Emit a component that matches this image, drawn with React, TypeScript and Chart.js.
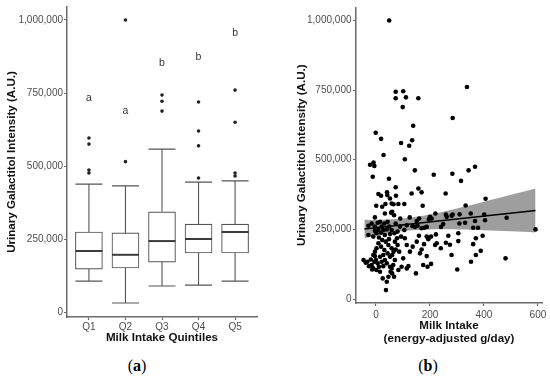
import React, { useEffect, useRef } from 'react';
import { Chart, registerables } from 'chart.js';

Chart.register(...registerables);

const FONT = '"Liberation Sans", Arial, Helvetica, sans-serif';
const AXIS = '#6b6b6b';
const TICK_TEXT = '#4d4d4d';
const BOX_LINE = '#555555';

// ---------- Panel (a): box plots ----------
const quintiles = ['Q1', 'Q2', 'Q3', 'Q4', 'Q5'];
const whiskerLow = [106000, 31000, 89000, 92000, 106000];
const q1 = [147000, 151000, 171000, 202000, 202000];
const median = [209000, 196000, 243000, 250000, 274000];
const q3 = [274000, 271000, 343000, 301000, 301000];
const whiskerHigh = [438000, 432000, 558000, 445000, 449000];
const outliersQ1 = [596000, 575000, 486000, 476000];
const outliersQ2 = [1000000, 515000];
const outliersQ3 = [743000, 722000, 688000];
const outliersQ4 = [719000, 620000, 569000, 459000];
const outliersQ5 = [760000, 650000, 476000, 466000];
const groupLetters = ['a', 'a', 'b', 'b', 'b'];
const letterY = [733000, 688000, 853000, 873000, 955000];

const yTicks = [0, 250000, 500000, 750000, 1000000];

// ---------- Panel (b): scatter with linear fit ----------
const xTicksB = [0, 200, 400, 600];
const milkVsGalactitol: [number, number][] = [
  [49, 1000000], [73, 744000], [101, 746000], [73, 721000], [111, 724000], [157, 721000], [99, 689000],
  [337, 761000], [284, 650000], [138, 622000], [-1, 597000], [19, 575000], [93, 560000], [134, 570000],
  [123, 550000], [28, 517000], [107, 502000], [-22, 482000], [-9, 490000], [-6, 478000], [-12, 439000],
  [48, 432000], [144, 462000], [214, 446000], [283, 450000], [315, 424000], [343, 462000], [367, 475000],
  [73, 401000], [157, 397000],
  [169, 383000], [258, 379000], [173, 335000], [332, 336000], [406, 360000], [351, 307000], [401, 303000],
  [484, 292000], [404, 283000], [591, 250000], [395, 227000],
  [151, 280000], [160, 289000], [200, 295000], [206, 289000], [196, 286000], [262, 295000], [280, 299000],
  [367, 280000], [144, 259000], [154, 263000], [169, 254000], [179, 256000], [188, 259000], [241, 259000],
  [309, 271000], [330, 274000], [360, 256000], [378, 256000], [159, 227000], [188, 224000], [204, 224000],
  [194, 215000], [222, 232000], [268, 227000], [305, 236000], [370, 218000], [220, 307000], [259, 303000],
  [284, 303000], [310, 304000], [249, 269000],
  [151, 206000], [163, 164000], [188, 154000], [175, 122000], [191, 116000], [204, 126000], [148, 92000],
  [219, 194000], [225, 200000], [240, 182000], [259, 202000], [274, 195000], [280, 158000], [305, 208000],
  [301, 106000], [360, 197000], [370, 158000], [388, 173000], [352, 134000], [480, 146000], [178, 197000],
  [169, 178000],
  [9, 377000], [19, 371000], [41, 383000], [42, 373000], [52, 361000], [74, 371000], [132, 379000],
  [1, 335000], [23, 331000], [35, 341000], [58, 343000], [65, 340000], [83, 341000], [105, 341000],
  [33, 307000], [56, 310000], [67, 301000], [60, 313000], [-4, 293000], [90, 289000], [125, 293000],
  [-28, 263000], [-16, 271000], [-4, 260000], [6, 274000], [15, 277000], [21, 260000], [31, 271000],
  [43, 277000], [49, 260000], [58, 248000], [73, 271000], [89, 260000], [105, 248000], [114, 265000],
  [135, 262000],
  [114, 110000], [120, 118000], [101, 146000], [126, 170000], [136, 188000], [114, 194000], [107, 218000],
  [93, 224000], [78, 218000], [70, 206000],
  [-46, 140000], [-38, 130000], [-28, 230000], [-14, 106000], [-4, 154000], [0, 140000], [6, 128000],
  [11, 116000], [15, 152000], [21, 134000], [27, 118000], [33, 140000], [25, 74000], [40, 62000],
  [37, 32000], [46, 80000], [54, 98000], [58, 110000], [64, 122000], [70, 140000], [52, 152000],
  [43, 164000], [31, 176000], [19, 188000], [9, 200000], [2, 182000], [-4, 170000], [-10, 158000],
  [-19, 142000], [11, 221000], [23, 212000], [36, 206000], [46, 194000], [58, 182000], [65, 170000],
  [48, 215000], [33, 230000], [19, 238000], [2, 236000], [-10, 224000], [27, 158000], [40, 128000],
  [52, 116000], [15, 98000], [2, 104000], [-6, 134000], [60, 158000], [73, 178000], [80, 194000],
  [86, 170000], [95, 116000], [83, 104000], [67, 80000], [60, 92000], [-16, 122000], [-26, 118000],
  [-32, 134000], [40, 250000], [52, 233000], [68, 236000], [80, 242000], [27, 248000], [9, 248000],
  [-4, 245000], [-10, 110000],
];
const fitX = [-43, 591];
const fitY = [251500, 318000];
const bandX = [-43, 0, 100, 200, 300, 400, 500, 591];
const bandUpper = [285000, 284000, 289000, 303000, 325000, 349000, 374000, 397000];
const bandLower = [218000, 228000, 244000, 250000, 250000, 247000, 243000, 239000];

const fmt = (v: number) => Number(v).toLocaleString('en-US');

const axisGrid = {
  display: true,
  drawOnChartArea: false,
  drawTicks: true,
  tickLength: 3,
  tickColor: AXIS,
  tickWidth: 1.2,
  offset: false,
};
const axisBorder = { display: true, color: AXIS, width: 1.5 };
const titleFont = { family: FONT, size: 11.6, weight: 'bold' as const };
const tickFont = { family: FONT, size: 10 };

const boxPlugin = {
  id: 'boxDetails',
  afterDatasetsDraw(chart: any) {
    const meta = chart.getDatasetMeta(1);
    const { ctx } = chart;
    const y = chart.scales.y;
    ctx.save();
    ctx.strokeStyle = BOX_LINE;
    meta.data.forEach((bar: any, i: number) => {
      const cx = bar.x;
      const half = bar.width / 2;
      const yHi = y.getPixelForValue(whiskerHigh[i]);
      const yQ3 = y.getPixelForValue(q3[i]);
      const yQ1 = y.getPixelForValue(q1[i]);
      const yLo = y.getPixelForValue(whiskerLow[i]);
      const yMed = y.getPixelForValue(median[i]);
      ctx.lineWidth = 1.1;
      ctx.beginPath();
      ctx.moveTo(cx, yQ3);
      ctx.lineTo(cx, yHi);
      ctx.moveTo(cx - half, yHi);
      ctx.lineTo(cx + half, yHi);
      ctx.moveTo(cx, yQ1);
      ctx.lineTo(cx, yLo);
      ctx.moveTo(cx - half, yLo);
      ctx.lineTo(cx + half, yLo);
      ctx.stroke();
      ctx.lineWidth = 2;
      ctx.strokeStyle = '#3c3c3c';
      ctx.beginPath();
      ctx.moveTo(cx - half, yMed);
      ctx.lineTo(cx + half, yMed);
      ctx.stroke();
      ctx.strokeStyle = BOX_LINE;
      ctx.fillStyle = '#333';
      ctx.font = `10.5px ${FONT}`;
      ctx.textAlign = 'center';
      ctx.textBaseline = 'middle';
      ctx.fillText(groupLetters[i], cx, y.getPixelForValue(letterY[i]));
    });
    ctx.restore();
  },
};

const outlierPoints = [outliersQ1, outliersQ2, outliersQ3, outliersQ4, outliersQ5].flatMap((arr, i) =>
  arr.map((v) => ({ x: i + 1, y: v }))
);

function makeConfigA(): any {
  return {
    type: 'bar',
    data: {
      datasets: [
        {
          type: 'scatter',
          data: outlierPoints,
          pointRadius: 1.8,
          pointBackgroundColor: '#222',
          pointBorderWidth: 0,
        },
        {
          type: 'bar',
          data: quintiles.map((_, i) => ({ x: i + 1, y: [q1[i], q3[i]] })),
          backgroundColor: '#ffffff',
          borderColor: BOX_LINE,
          borderWidth: 1.1,
          borderSkipped: false,
          barThickness: 27,
        },
      ],
    },
    options: {
      responsive: false,
      animation: false,
      devicePixelRatio: 1,
      layout: { padding: { left: 0, right: 18, top: 7, bottom: 4.3 } },
      plugins: { legend: { display: false }, tooltip: { enabled: false } },
      scales: {
        x: {
          type: 'linear',
          offset: false,
          min: 0.4,
          max: 5.6,
          afterBuildTicks: (s: any) => {
            s.ticks = quintiles.map((_, i) => ({ value: i + 1 }));
          },
          afterFit: (s: any) => {
            s.height = 28.7;
          },
          ticks: {
            callback: (v: number) => quintiles[Math.round(v) - 1],
            font: tickFont,
            color: TICK_TEXT,
            padding: 1,
            autoSkip: false,
            maxRotation: 0,
          },
          grid: axisGrid,
          border: axisBorder,
          title: {
            display: true,
            text: 'Milk Intake Quintiles',
            font: titleFont,
            color: '#111',
            padding: { top: 0, bottom: 1 },
          },
        },
        y: {
          type: 'linear',
          min: -17000,
          max: 1044500,
          afterBuildTicks: (s: any) => {
            s.ticks = yTicks.map((v) => ({ value: v }));
          },
          afterFit: (s: any) => {
            s.width = 67;
          },
          ticks: { callback: fmt, font: tickFont, color: TICK_TEXT, padding: 1 },
          grid: axisGrid,
          border: axisBorder,
          title: {
            display: true,
            text: 'Urinary Galactitol Intensity (A.U.)',
            font: titleFont,
            color: '#111',
            padding: { top: 4.8, bottom: 0 },
          },
        },
      },
    },
    plugins: [boxPlugin],
  };
}

function makeConfigB(): any {
  return {
    type: 'scatter',
    data: {
      datasets: [
        {
          data: fitX.map((x, i) => ({ x, y: fitY[i] })),
          showLine: true,
          borderColor: '#000',
          borderWidth: 1.6,
          pointRadius: 0,
          fill: false,
        },
        {
          data: milkVsGalactitol.map(([x, y]) => ({ x, y })),
          pointRadius: 2.3,
          pointBackgroundColor: '#000',
          pointBorderWidth: 0,
        },
        {
          data: bandX.map((x, i) => ({ x, y: bandUpper[i] })),
          showLine: true,
          borderWidth: 0,
          borderColor: 'rgba(0,0,0,0)',
          pointRadius: 0,
          tension: 0.3,
          fill: '+1',
          backgroundColor: '#9e9e9e',
        },
        {
          data: bandX.map((x, i) => ({ x, y: bandLower[i] })),
          showLine: true,
          borderWidth: 0,
          borderColor: 'rgba(0,0,0,0)',
          pointRadius: 0,
          tension: 0.3,
          fill: false,
        },
      ],
    },
    options: {
      responsive: false,
      animation: false,
      devicePixelRatio: 1,
      layout: { padding: { left: 0, right: 8, top: 7, bottom: 4.5 } },
      plugins: { legend: { display: false }, tooltip: { enabled: false } },
      scales: {
        x: {
          type: 'linear',
          min: -74,
          max: 615,
          afterBuildTicks: (s: any) => {
            s.ticks = xTicksB.map((v) => ({ value: v }));
          },
          afterFit: (s: any) => {
            s.height = 42.5;
          },
          ticks: { font: tickFont, color: TICK_TEXT, padding: 3, maxRotation: 0 },
          grid: axisGrid,
          border: axisBorder,
          title: {
            display: true,
            text: ['Milk Intake', '(energy-adjusted g/day)'],
            font: { ...titleFont, lineHeight: 1.12 },
            color: '#111',
            padding: { top: 0, bottom: 0.5 },
          },
        },
        y: {
          type: 'linear',
          min: -14300,
          max: 1046600,
          afterBuildTicks: (s: any) => {
            s.ticks = yTicks.map((v) => ({ value: v }));
          },
          afterFit: (s: any) => {
            s.width = 81;
          },
          ticks: { callback: fmt, font: tickFont, color: TICK_TEXT, padding: 1.5 },
          grid: axisGrid,
          border: axisBorder,
          title: {
            display: true,
            text: 'Urinary Galactitol Intensity (A.U.)',
            font: titleFont,
            color: '#111',
            padding: { top: 19.8, bottom: 0 },
          },
        },
      },
    },
  };
}

const captionStyle: React.CSSProperties = {
  position: 'absolute',
  top: 357,
  width: 60,
  textAlign: 'center',
  fontFamily: '"Liberation Serif", "Times New Roman", serif',
  fontSize: 16,
  lineHeight: '18px',
  color: '#000',
};

export default function App() {
  const refA = useRef<HTMLCanvasElement>(null);
  const refB = useRef<HTMLCanvasElement>(null);

  useEffect(() => {
    const a = new Chart(refA.current as HTMLCanvasElement, makeConfigA());
    const b = new Chart(refB.current as HTMLCanvasElement, makeConfigB());
    return () => {
      a.destroy();
      b.destroy();
    };
  }, []);

  return (
    <div style={{ position: 'absolute', left: 0, top: 0, width: 550, height: 379, background: '#fff', overflow: 'hidden' }}>
      <canvas ref={refA} width={275} height={350} style={{ position: 'absolute', left: 0, top: 0, width: 275, height: 350 }} />
      <canvas ref={refB} width={275} height={350} style={{ position: 'absolute', left: 275, top: 0, width: 275, height: 350 }} />
      <div style={{ ...captionStyle, left: 107 }}>
        (<b>a</b>)
      </div>
      <div style={{ ...captionStyle, left: 398 }}>
        (<b>b</b>)
      </div>
    </div>
  );
}
